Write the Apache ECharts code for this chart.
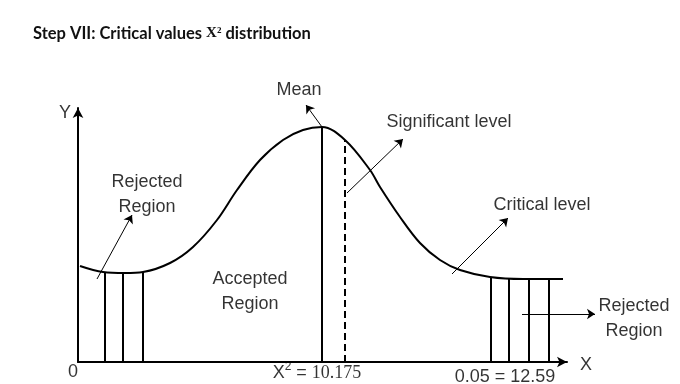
<!DOCTYPE html>
<html>
<head>
<meta charset="utf-8">
<style>html,body{margin:0;padding:0;background:#fff}#c{width:680px;height:384px}</style>
<script src="https://cdn.jsdelivr.net/npm/echarts@6/dist/echarts.min.js"></script>
</head>
<body>
<div id="c"></div>
<script>
// Schematic chi-square curve, in plot units (x to the right of origin, y up from the X axis)
var curveX = [2, 25, 47, 65, 92, 115, 139, 159, 182, 205, 225, 244, 267, 292, 302, 322, 342, 362, 382, 412, 445, 485];
var curveY = [96, 90, 89, 90, 99, 115, 142, 172, 202, 222, 232, 235, 222, 192, 175, 145, 119, 102, 92, 85, 83, 83];

// Hatch lines of the rejected regions
var leftHatchX = [27, 45, 65];
var leftHatchTop = [90, 89, 90];
var rightHatchX = [413, 431, 451, 471];
var rightHatchTop = [84, 83, 83, 83];

// Mean line and significant-level (dashed) line
var meanX = 244, meanTop = 235;
var sigX = 267, sigTop = 222;

// Pointer arrows: [fromX, fromY, toX, toY]
var arrowMean = [244, 235, 228, 257];
var arrowSig = [269, 169, 325, 223];
var arrowCrit = [374, 88, 430, 144];
var arrowRejL = [19, 83, 54, 147];
var arrowRejR = [444, 48, 517, 48];

// Text labels: [x, y, text]
var labels = [
  [221, 272, 'Mean'],
  [-13, 249, 'Y'],
  [371, 240, 'Significant level'],
  [464, 157, 'Critical level'],
  [69, 167, 'Rejected\nRegion'],
  [172, 70, 'Accepted\nRegion'],
  [556, 43, 'Rejected\nRegion'],
  [-5, -10, '0'],
  [508, -3, 'X'],
  [427, -15, '0.05 = 12.59']
];
var chiLabel = [239, -11, 'X', '2', ' = ', '10.175'];
var titleText = 'Step VII: Critical values ';
var titleChi = 'X\u00B2';
var titleTail = ' distribution';

var chart = echarts.init(document.getElementById('c'), null, {renderer: 'canvas'});

function seg(a) { return {coords: [[a[0], a[1]], [a[2], a[3]]]}; }
function vert(x, top) { return {coords: [[x, 0], [x, top]]}; }

var hatch = [];
leftHatchX.forEach(function (x, i) { hatch.push(vert(x, leftHatchTop[i])); });
rightHatchX.forEach(function (x, i) { hatch.push(vert(x, rightHatchTop[i])); });

var font = '"Liberation Sans", Arial, sans-serif';

chart.setOption({
  animation: false,
  backgroundColor: '#fff',
  title: {
    text: '{a|' + titleText + '}{b|' + titleChi + '}{a|' + titleTail + '}',
    left: 28, top: 20,
    textStyle: {
      rich: {
        a: {fontFamily: 'Lato, sans-serif', fontWeight: 'bold', fontSize: 16.5, color: '#111'},
        b: {fontFamily: '"Liberation Serif", serif', fontWeight: 'bold', fontSize: 15, color: '#111'}
      }
    }
  },
  grid: {left: 78, top: 108, right: 113, bottom: 22},
  xAxis: {
    type: 'value', min: 0, max: 489,
    axisLine: {show: true, onZero: false, symbol: ['none', 'arrow'], symbolSize: [8, 10], lineStyle: {color: '#000', width: 2}},
    axisTick: {show: false}, axisLabel: {show: false}, splitLine: {show: false}
  },
  yAxis: {
    type: 'value', min: 0, max: 254,
    axisLine: {show: true, onZero: false, symbol: ['none', 'arrow'], symbolSize: [8, 10], lineStyle: {color: '#000', width: 2}},
    axisTick: {show: false}, axisLabel: {show: false}, splitLine: {show: false}
  },
  series: [
    {
      type: 'line', smooth: 0.35, symbol: 'none', silent: true, clip: false,
      lineStyle: {color: '#000', width: 2},
      data: curveX.map(function (x, i) { return [x, curveY[i]]; })
    },
    {
      type: 'lines', coordinateSystem: 'cartesian2d', silent: true, clip: false,
      lineStyle: {color: '#000', width: 2, opacity: 1},
      data: hatch.concat([vert(meanX, meanTop)])
    },
    {
      type: 'lines', coordinateSystem: 'cartesian2d', silent: true, clip: false,
      lineStyle: {color: '#000', width: 2, opacity: 1, type: [7, 4]},
      data: [vert(sigX, sigTop)]
    },
    {
      type: 'lines', coordinateSystem: 'cartesian2d', silent: true, clip: false,
      symbol: ['none', 'arrow'], symbolSize: 8,
      lineStyle: {color: '#000', width: 1, opacity: 1},
      data: [seg(arrowMean), seg(arrowSig), seg(arrowCrit), seg(arrowRejL), seg(arrowRejR)]
    },
    {
      type: 'scatter', symbolSize: 0, silent: true, clip: false,
      label: {
        show: true, position: 'inside', color: '#000', fontFamily: font, fontSize: 18,
        lineHeight: 25, align: 'center', verticalAlign: 'middle',
        formatter: function (p) { return p.value[2]; }
      },
      data: labels.map(function (l) { return {value: [l[0], l[1], l[2]]}; })
          .concat([{
            value: [chiLabel[0], chiLabel[1], ''],
            label: {
              formatter: '{x|' + chiLabel[2] + '}{s|' + chiLabel[3] + '}{x|' + chiLabel[4] + '}{n|' + chiLabel[5] + '}',
              rich: {
                x: {fontFamily: font, fontSize: 18, color: '#000'},
                s: {fontFamily: font, fontSize: 12, color: '#000', verticalAlign: 'top', padding: [0, 0, 10, 0]},
                n: {fontFamily: '"Liberation Serif", serif', fontSize: 18, color: '#000'}
              }
            }
          }])
    }
  ]
});
</script>
</body>
</html>
